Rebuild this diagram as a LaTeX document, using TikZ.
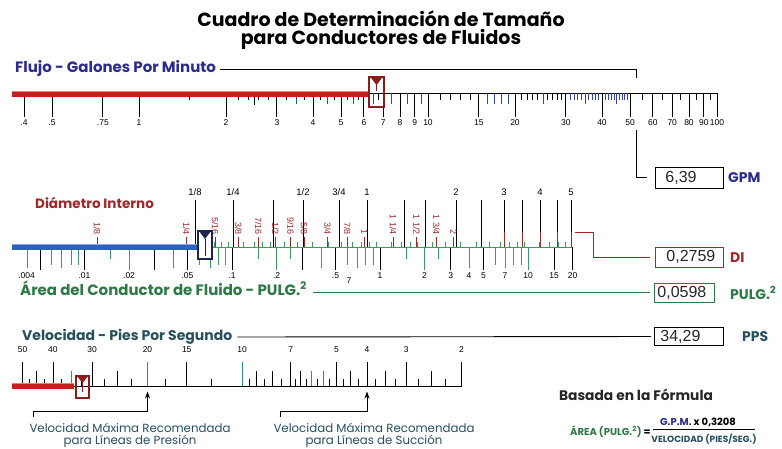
\documentclass[tikz,border=0pt]{standalone}
\usepackage{fontspec}
\setmainfont{Poppins}
\newfontfamily\tickfont{Liberation Sans}
\usetikzlibrary{arrows.meta}
\definecolor{flowblue}{HTML}{2B2A8F}
\definecolor{barred}{HTML}{C81E1E}
\definecolor{boxred}{HTML}{8E1B1B}
\definecolor{dired}{HTML}{A0282A}
\definecolor{barblue}{HTML}{2F5FBF}
\definecolor{navy}{HTML}{1C2550}
\definecolor{areagreen}{HTML}{2D7A45}
\definecolor{tickgreen}{HTML}{3A9B5A}
\definecolor{velteal}{HTML}{26505E}
\definecolor{tickteal}{HTML}{2E8C8A}
\definecolor{tickblue}{HTML}{3340B0}
\begin{document}
\begin{tikzpicture}[x=1pt,y=-1pt,
  every node/.style={inner sep=0pt},
  ttl/.style={font=\fontsize{19}{21}\selectfont\bfseries},
  hd/.style={font=\fontsize{15}{17}\selectfont\bfseries, anchor=base west},
  capt/.style={font=\fontsize{11.8}{13}\selectfont, text=velteal},
  unit/.style={font=\fontsize{14}{16}\selectfont\bfseries, anchor=west},
  valbox/.style={draw=black, line width=0.9pt, anchor=west, align=left, font=\tickfont\fontsize{16}{18}\selectfont, text=black!85},
  lab/.style={font=\tickfont\fontsize{8.5}{9}\selectfont},
  nlab/.style={font=\tickfont\fontsize{9.5}{10}\selectfont},
  idlab/.style={font=\tickfont\fontsize{9}{10}\selectfont, text=dired, rotate=-90, anchor=east},
  tk/.style={line width=0.9pt},
  conn/.style={line width=0.9pt},
  arr/.style={line width=0.9pt, -{Stealth[length=7pt,width=5pt]}},
  ]
\useasboundingbox (0,0) rectangle (782,448);
\clip (0,0) rectangle (782,448);
\fill[white] (0,0) rectangle (782,448);

% ---------------- title
\node[ttl, anchor=base] (t1) at (381,26.5) {Cuadro de Determinación de Tamaño};
\node[ttl, anchor=base] (t2) at (381,44) {para Conductores de Fluidos};

% ---------------- flow scale
\node[hd, text=flowblue] (flujo) at (15,72) {Flujo - Galones Por Minuto};
\coordinate (fc1) at (636,69);
\coordinate (fc2) at (636,78);
\draw[conn] ([xshift=4pt,yshift=3pt]flujo.base east) -- (fc1) -- (fc2);

\draw[tk] (368,93) -- (718,93);
\foreach \v in {1.5,2.2,2.4,2.6,2.8,3.25,3.75,4.25,4.75,5.25,5.75,6.25,6.75,11,12,13,14,21,22,23,24,26,27,28,29,55,65,75,85,95}
  \draw[tk] ({139+289*log10(\v)},93) -- ++(0,7);
\foreach \v in {31,32,33,34,36,37,38,39,41,42,43,44,46,47,48,49}
  \draw[tk, tickblue] ({139+289*log10(\v)},93) -- ++(0,7);
\foreach \v in {2.5}
  \draw[tk] ({139+289*log10(\v)},93) -- ++(0,12);
\foreach \v in {3.5,4.5,5.5,6.5,7.5,8.5,9.5,16,17,18,19,25,35,45}
  \draw[tk, tickblue] ({139+289*log10(\v)},93) -- ++(0,11);
\foreach \v/\t [count=\i] in {0.4/.4,0.5/.5,0.75/.75,1/1,2/2,3/3,4/4,5/5,6/6,7/7,8/8,9/9,10/10,15/15,20/20,30/30,40/40,50/50,60/60,70/70,80/80,90/90,100/100}{
  \draw[tk] ({139+289*log10(\v)},93) -- ++(0,24);
  \node[lab] (fl\i) at ({139+289*log10(\v)},123) {\t};
}
\fill[barred] (12,91) rectangle (368,97);
\fill[barred!55!white] (12,91) rectangle (368,92.3);
\node[draw=boxred, line width=1.8pt, minimum width=15pt, minimum height=30pt] (fmk) at (376.5,92) {};
\fill[boxred] ([xshift=-6pt,yshift=-1pt]fmk.north) -- ([xshift=6pt,yshift=-1pt]fmk.north) -- ([yshift=-9pt]fmk.north) -- cycle;
\draw[boxred, line width=1pt] ([yshift=-9pt]fmk.north) -- ([yshift=-15pt]fmk.north);

\coordinate (fc3) at (636,130);
\node[valbox, minimum height=21pt, inner xsep=10pt, text width=48pt] (gpmbox) at (655,177.5) {6,39};
\node[unit, text=flowblue] (gpm) at (728,178) {GPM};
\draw[conn, shorten >=8pt] (fc3) |- (gpmbox.west);

% ---------------- area / diameter scale
\node[hd, text=dired, font=\fontsize{13.5}{15}\selectfont\bfseries] (diam) at (35,208) {Diámetro Interno};

% area ticks below
\foreach \k in {0.001,0.01,0.1,1}{
  \foreach \m/\c/\l in {1/black/23,2/tickgreen/23,3/black/23,4/tickgreen/21,5/black/23,6/tickgreen/18,7/tickgreen/21,8/tickgreen/18,9/tickgreen/18}{
    \pgfmathsetmacro\av{\m*\k}
    \ifdim\av pt>0.0035pt
      \draw[tk, \c] ({380+148*log10(\av)},247) -- ++(0,\l);
    \fi
  }
}
\foreach \v/\c in {10/tickgreen,15/black,20/black}
  \draw[tk, \c] ({380+148*log10(\v)},247) -- ++(0,23);
\foreach \v in {0.015,0.15,1.5,0.25,2.5}
  \draw[tk, tickgreen] ({380+148*log10(\v)},247) -- ++(0,12);
\foreach \k in {0.1,1}{
  \foreach \m in {1.2,1.4,1.6,1.8,2.25,2.75,3.5,4.5,5.5,6.5,7.5,8.5,9.5}
    \draw[tk, tickgreen] ({380+148*log10(\m*\k)},247) -- ++(0,-5);
}
\foreach \v in {0.065,0.075,0.085,0.095,12,14,16,18}
  \draw[tk, tickgreen] ({380+148*log10(\v)},247) -- ++(0,-5);
\draw[tickgreen, line width=0.9pt] (197,247) -- (572,247);

\foreach \v/\t [count=\i] in {0.004/.004,0.01/.01,0.02/.02,0.05/.05,0.1/.1,0.2/.2,0.5/.5,1/1,2/2,3/3,4/4,5/5,7/7,10/10,15/15,20/20}
  \node[lab] (al\i) at ({380+148*log10(\v)},276) {\t};
\node[lab] (al7b) at (349,281) {7};

% nominal (black) ticks above
\foreach \x in {195,233,273,303,339,367,404,425,456,481}
  \draw[tk] (\x,200) -- (\x,247);
\foreach \x in {504,522,540,557,571}{
  \draw[tk] (\x,200) -- (\x,232);
  \draw[tk, dired] (\x,232) -- (\x,247);
}
\foreach \x/\t [count=\i] in {195/{1/8},233/{1/4},303/{1/2},339/{3/4},367/1,456/2,504/3,540/4,571/5}
  \node[nlab] (nl\i) at (\x,192) {\t};

% inside diameter (red, rotated)
\foreach \d/\t [count=\i] in {0.125/{1/8},0.25/{1/4},0.3125/{5/16},0.375/{3/8},0.4375/{7/16},0.5/{1/2},0.5625/{9/16},0.625/{5/8},0.75/{3/4},0.875/{7/8},1/1,1.25/{1 1/4},1.5/{1 1/2},1.75/{1 3/4},2/2}{
  \node[idlab] (id\i) at ({364.5+296*log10(\d)},235) {\t};
  \draw[dired, line width=0.8pt] ({364.5+296*log10(\d)},237) -- ({364.5+296*log10(\d)},247);
}
\fill[barblue] (12,244) rectangle (197,250);
\fill[barblue!55!white] (12,244) rectangle (197,245.3);
\node[draw=navy, line width=2pt, fill=white, minimum width=14pt, minimum height=28pt] (amk) at (205,245) {};
\fill[navy] ([xshift=-6pt,yshift=-1pt]amk.north) -- ([xshift=6pt,yshift=-1pt]amk.north) -- ([yshift=-9pt]amk.north) -- cycle;
\draw[navy, line width=1pt] ([yshift=-9pt]amk.north) -- ([yshift=-26pt]amk.north);

\coordinate (dc1) at (575,232);
\coordinate (dc2) at (593,232);
\node[valbox, draw=dired, minimum height=20pt, inner xsep=11pt, text width=46pt] (dibox) at (655,257) {0,2759};
\node[unit, text=dired] (di) at (730,257.5) {DI};
\draw[conn, dired, shorten >=5pt] (dc1) -- (dc2) |- (dibox.west);

\node[hd, text=areagreen] (areah) at (20,295) {Área del Conductor de Fluido - PULG.\textsuperscript{2}};
\node[valbox, draw=areagreen, minimum height=19pt, inner xsep=3pt, text width=54pt] (abox) at (654,292.5) {0,0598};
\node[unit, text=areagreen] (au) at (730,293) {PULG.\textsuperscript{2}};
\draw[conn, areagreen, shorten >=4pt] ([xshift=6pt,yshift=2.5pt]areah.base east) -- (abox.west);

% ---------------- velocity scale
\node[hd, text=velteal, font=\fontsize{14}{16}\selectfont\bfseries] (velh) at (22,340) {Velocidad - Pies Por Segundo};
\node[valbox, minimum height=18pt, inner xsep=6pt, text width=57pt] (pbox) at (654,336.5) {34,29};
\node[unit, text=velteal] (pps) at (742,337) {PPS};
\draw[conn, shorten >=3pt] ([xshift=5pt,yshift=3pt]velh.base east) -- (pbox.west);

\draw[tk] (73,386) -- (462,386);
\foreach \v in {47.5,42.5,37.5,32.5,27.5,22.5,17.5,12.5,9.5,8.5,7.5,6.75,6.25,5.75,5.25,4.75,4.25,3.75,3.25,2.75,2.25}
  \draw[tk] ({556-314*log10(\v)},386) -- ++(0,-7);
\foreach \v/\c in {45/black,35/tickteal,25/black,9/black,8/black,6.5/black,6/tickteal,5.5/tickteal,4.5/black,3.5/black,2.5/black}
  \draw[tk, \c] ({556-314*log10(\v)},386) -- ++(0,-15);
\foreach \v/\c [count=\i] in {50/black,40/black,30/black,20/tickteal,15/black,10/tickteal,7/black,5/black,4/black,3/black,2/black}{
  \draw[tk, \c] ({556-314*log10(\v)},386) -- ++(0,-24);
  \node[lab] (vl\i) at ({556-314*log10(\v)},350) {\v};
}
\fill[barred] (12,383) rectangle (74,389);
\fill[barred!55!white] (12,383) rectangle (74,384.3);
\node[draw=boxred, line width=1.8pt, minimum width=13pt, minimum height=22pt] (vmk) at (82.5,387) {};
\fill[boxred] ([xshift=-5.5pt,yshift=-1pt]vmk.north) -- ([xshift=5.5pt,yshift=-1pt]vmk.north) -- ([yshift=-8pt]vmk.north) -- cycle;
\draw[boxred, line width=1pt] ([yshift=-8pt]vmk.north) -- ([yshift=-17pt]vmk.north);

% arrows
\coordinate (va1) at (147.5,391.5);
\coordinate (vb1) at (147.5,411);
\coordinate (vc1) at (33,411);
\coordinate (vd1) at (33,417);
\draw[arr] (vd1) -- (vc1) -- (vb1) -- (va1);
\coordinate (va2) at (367,391.5);
\coordinate (vb2) at (367,411);
\coordinate (vc2) at (280,411);
\coordinate (vd2) at (280,417);
\draw[arr] (vd2) -- (vc2) -- (vb2) -- (va2);

\node[capt, anchor=base] (c1a) at (130,432) {Velocidad Máxima Recomendada};
\node[capt, anchor=base] (c1b) at (130,444.5) {para Líneas de Presión};
\node[capt, anchor=base] (c2a) at (374,432) {Velocidad Máxima Recomendada};
\node[capt, anchor=base] (c2b) at (374,444.5) {para Líneas de Succión};

% ---------------- formula
\node[font=\fontsize{13.8}{15}\selectfont\bfseries, text=black!85, anchor=base] (basada) at (636,400) {Basada en la Fórmula};
\node[font=\fontsize{10}{11}\selectfont\bfseries, anchor=base west] (areaf) at (570,435.5) {\textcolor{areagreen}{ÁREA (PULG.\textsuperscript{2})} =};
\node[font=\fontsize{10}{11}\selectfont\bfseries, anchor=base] (numf) at (698,425) {\textcolor{flowblue}{G.P.M.} x 0,3208};
\node[font=\fontsize{9}{10}\selectfont\bfseries, text=velteal, anchor=base] (denf) at (704,442) {VELOCIDAD (PIES/SEG.)};
\coordinate (fb1) at (653,429.5);
\coordinate (fb2) at (755,429.5);
\draw[line width=0.9pt] (fb1) -- (fb2);
\end{tikzpicture}
\end{document}
